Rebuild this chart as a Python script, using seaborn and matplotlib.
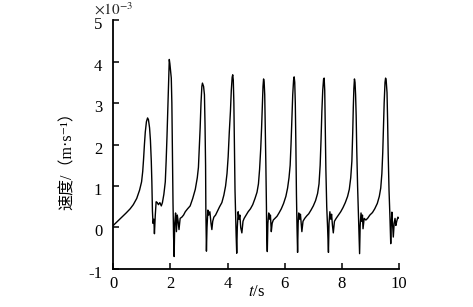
import matplotlib
matplotlib.use("Agg")
import matplotlib.pyplot as plt
import matplotlib.transforms as mtransforms
import seaborn as sns
import pandas as pd

sns.set_theme(style="ticks")
plt.rcParams['font.family'] = ['Liberation Serif', 'Noto Sans CJK SC', 'DejaVu Sans']
plt.rcParams['mathtext.fontset'] = 'stix'
plt.rcParams['axes.unicode_minus'] = False

# 时间 (s) 与速度 (×10^-3 m/s)
t_vals = [
    0.00, 0.15, 0.30, 0.45, 0.59, 0.70, 0.82, 0.92, 0.99, 1.03, 1.06, 1.09, 1.12, 1.16, 1.20, 1.23,
    1.27, 1.30, 1.33, 1.35, 1.37, 1.39, 1.42, 1.44, 1.47, 1.50, 1.54, 1.58, 1.63, 1.68, 1.72, 1.77,
    1.82, 1.85, 1.88, 1.91, 1.94, 1.96, 1.98, 2.00, 2.03, 2.05, 2.07, 2.09, 2.11, 2.13, 2.15, 2.18,
    2.21, 2.24, 2.27, 2.30, 2.34, 2.40, 2.46, 2.52, 2.60, 2.69, 2.78, 2.87, 2.94, 2.98, 3.01, 3.04,
    3.07, 3.10, 3.12, 3.16, 3.19, 3.21, 3.23, 3.24, 3.26, 3.28, 3.31, 3.34, 3.38, 3.42, 3.45, 3.48,
    3.52, 3.58, 3.65, 3.72, 3.80, 3.87, 3.93, 3.98, 4.02, 4.06, 4.10, 4.13, 4.16, 4.18, 4.20, 4.22,
    4.24, 4.26, 4.28, 4.30, 4.32, 4.34, 4.37, 4.40, 4.43, 4.46, 4.50, 4.54, 4.58, 4.65, 4.72, 4.80,
    4.88, 4.96, 5.03, 5.08, 5.12, 5.16, 5.19, 5.22, 5.24, 5.26, 5.28, 5.30, 5.32, 5.34, 5.36, 5.37,
    5.39, 5.41, 5.44, 5.47, 5.50, 5.53, 5.56, 5.60, 5.66, 5.73, 5.80, 5.88, 5.96, 6.04, 6.10, 6.15,
    6.19, 6.22, 6.25, 6.28, 6.31, 6.33, 6.35, 6.37, 6.39, 6.41, 6.43, 6.45, 6.47, 6.49, 6.52, 6.55,
    6.58, 6.60, 6.64, 6.70, 6.77, 6.84, 6.92, 7.00, 7.08, 7.15, 7.20, 7.24, 7.27, 7.30, 7.33, 7.36,
    7.38, 7.40, 7.42, 7.44, 7.47, 7.50, 7.53, 7.55, 7.58, 7.61, 7.64, 7.67, 7.70, 7.74, 7.80, 7.88,
    7.96, 8.04, 8.12, 8.20, 8.26, 8.31, 8.35, 8.38, 8.40, 8.42, 8.44, 8.46, 8.48, 8.50, 8.52, 8.55,
    8.58, 8.60, 8.62, 8.64, 8.67, 8.70, 8.72, 8.74, 8.78, 8.84, 8.90, 8.98, 9.07, 9.15, 9.24, 9.31,
    9.36, 9.40, 9.43, 9.46, 9.48, 9.51, 9.53, 9.55, 9.58, 9.60, 9.62, 9.65, 9.68, 9.71, 9.73, 9.75,
    9.78, 9.80, 9.83, 9.86, 9.89, 9.92, 9.96, 10.00,
]
v_vals = [
    0.05, 0.15, 0.25, 0.35, 0.45, 0.55, 0.70, 0.90, 1.10, 1.35, 1.65, 2.00, 2.30, 2.55, 2.64, 2.60,
    2.40, 2.10, 1.60, 1.10, 0.40, 0.10, 0.20, -0.15, 0.30, 0.62, 0.60, 0.55, 0.60, 0.52, 0.60, 0.80,
    1.10, 1.60, 2.20, 2.90, 3.60, 4.05, 3.95, 3.80, 3.60, 3.00, 1.80, 0.60, -0.20, -0.70, 0.10, 0.35,
    -0.10, 0.30, 0.15, -0.05, 0.22, 0.25, 0.30, 0.38, 0.45, 0.52, 0.70, 0.92, 1.20, 1.45, 1.90, 2.40,
    3.00, 3.40, 3.48, 3.40, 3.20, 2.50, 1.50, 0.40, -0.57, 0.00, 0.42, 0.30, 0.38, 0.10, -0.05, 0.15,
    0.25, 0.30, 0.40, 0.50, 0.60, 0.78, 1.00, 1.30, 1.70, 2.30, 2.80, 3.30, 3.62, 3.68, 3.55, 3.00,
    1.90, 0.90, 0.30, -0.20, -0.62, 0.00, 0.38, 0.20, 0.30, 0.00, -0.13, 0.15, 0.22, 0.30, 0.38, 0.45,
    0.55, 0.70, 0.85, 1.05, 1.40, 1.90, 2.40, 3.00, 3.40, 3.58, 3.50, 3.20, 2.40, 1.50, 0.50, -0.20,
    -0.58, 0.10, 0.35, 0.20, 0.30, -0.10, 0.10, 0.18, 0.22, 0.27, 0.35, 0.45, 0.58, 0.75, 0.95, 1.20,
    1.50, 2.00, 2.60, 3.20, 3.55, 3.63, 3.50, 3.00, 2.00, 0.80, 0.00, -0.60, 0.10, 0.35, 0.20, 0.32,
    0.05, -0.10, 0.15, 0.22, 0.28, 0.33, 0.42, 0.52, 0.65, 0.82, 1.05, 1.50, 2.10, 2.80, 3.30, 3.58,
    3.60, 3.30, 2.40, 1.40, 0.50, 0.00, -0.60, 0.10, 0.38, 0.20, 0.32, 0.05, -0.13, 0.15, 0.22, 0.30,
    0.38, 0.48, 0.60, 0.75, 0.92, 1.20, 1.60, 2.30, 2.90, 3.35, 3.58, 3.50, 3.20, 2.70, 1.90, 1.00,
    0.30, -0.20, -0.63, 0.05, 0.35, 0.15, 0.30, -0.03, 0.22, 0.18, 0.22, 0.30, 0.36, 0.45, 0.58, 0.75,
    0.95, 1.30, 1.80, 2.50, 3.00, 3.50, 3.60, 3.55, 3.25, 2.60, 1.80, 0.90, 0.30, -0.39, 0.10, 0.37,
    0.00, -0.23, 0.10, 0.22, 0.05, 0.15, 0.25, 0.22,
]

x_ticks = [0, 2, 4, 6, 8, 10]
y_ticks = [-1, 0, 1, 2, 3, 4, 5]

df = pd.DataFrame({'t': t_vals, 'v': v_vals})

fig = plt.figure(figsize=(4.73, 3.07), dpi=100)
ax = fig.add_axes([0.2395, 0.1238, 0.6041, 0.8110])
sns.lineplot(data=df, x='t', y='v', ax=ax, color='black', linewidth=1.0)

ax.set_xlim(0, 10)
ax.set_ylim(-1, 5)
ax.set_xticks(x_ticks)
ax.set_yticks(y_ticks)
ax.set_xticklabels([str(x) for x in x_ticks])
ax.set_yticklabels([str(y) for y in y_ticks])
sns.despine(ax=ax)
for s in ['left', 'bottom']:
    ax.spines[s].set_linewidth(1.3)
    ax.spines[s].set_color('black')
ax.tick_params(direction='in', length=4, width=1.1, colors='black', labelsize=12)
ax.tick_params(axis='y', pad=8)
ax.tick_params(axis='x', pad=5)

# y 刻度标签在原图中略微下移
shift = mtransforms.ScaledTranslation(0, -3 / 100, fig.dpi_scale_trans)
for lab in ax.get_yticklabels():
    lab.set_transform(lab.get_transform() + shift)

ax.set_xlabel(r'$t$/s', fontsize=12, color='black')
ax.xaxis.set_label_coords(0.5, -0.06)
ax.set_ylabel('速度/（m·s⁻¹）', fontsize=11.5, color='black')
ax.yaxis.set_label_coords(-0.13, 0.45)

fig.text(94 / 473, 1 - 9 / 307, r'$\times 10^{-3}$', fontsize=11, va='center', ha='left')

fig.savefig('out.png', dpi=100)
